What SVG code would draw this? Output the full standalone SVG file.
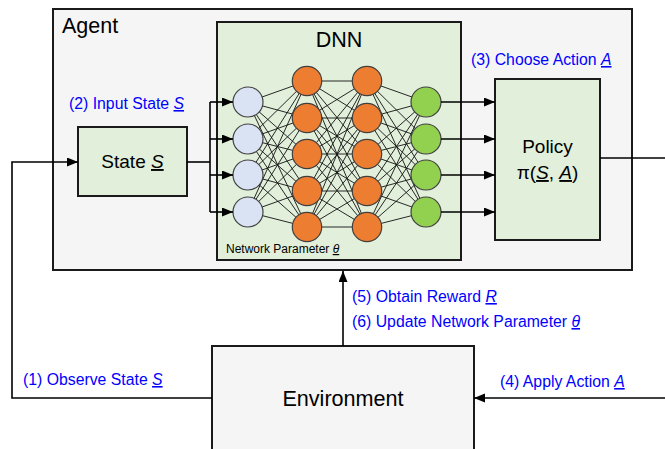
<svg xmlns="http://www.w3.org/2000/svg" width="665" height="449" viewBox="0 0 665 449">
<defs>
<marker id="ah" markerUnits="userSpaceOnUse" markerWidth="12" markerHeight="10" refX="11" refY="4.5" orient="auto">
<path d="M0,0 L11,4.5 L0,9 z" fill="#000"/>
</marker>
<style>
.box{stroke:#1a1a1a;stroke-width:2}
.green{fill:#e2efda}
.gray{fill:#f5f5f5}
.t{font-family:"Liberation Sans",Arial,sans-serif;fill:#000}
.blue{font-family:"Liberation Sans",Arial,sans-serif;fill:#0000ff;font-size:15.8px}
.v{font-style:italic;text-decoration:underline}
.c{fill:none;stroke:#000;stroke-width:1.6}
.w{stroke:#111;stroke-width:0.9}
.in{fill:#dae3f3;stroke:#404040;stroke-width:1.2}
.hid{fill:#ed7d31;stroke:#404040;stroke-width:1.2}
.out{fill:#92d050;stroke:#404040;stroke-width:1.2}
</style>
</defs>
<rect width="665" height="449" fill="#fff"/>

<g id="agent">
<rect class="box gray" x="53" y="9" width="579" height="261"/>
<text class="t" x="62" y="33" font-size="21.5">Agent</text>
</g>

<g id="dnn">
<rect class="box green" x="217" y="22" width="244" height="238"/>
<text class="t" x="339" y="47" font-size="21.5" text-anchor="middle">DNN</text>
<g id="weights">
<path class="w" d="M248,102L307,81M248,102L307,118M248,102L307,154M248,102L307,191M248,102L307,227
M248,139L307,81M248,139L307,118M248,139L307,154M248,139L307,191M248,139L307,227
M248,175L307,81M248,175L307,118M248,175L307,154M248,175L307,191M248,175L307,227
M248,212L307,81M248,212L307,118M248,212L307,154M248,212L307,191M248,212L307,227
M307,81L367,81M307,81L367,118M307,81L367,154M307,81L367,191M307,81L367,227
M307,118L367,81M307,118L367,118M307,118L367,154M307,118L367,191M307,118L367,227
M307,154L367,81M307,154L367,118M307,154L367,154M307,154L367,191M307,154L367,227
M307,191L367,81M307,191L367,118M307,191L367,154M307,191L367,191M307,191L367,227
M307,227L367,81M307,227L367,118M307,227L367,154M307,227L367,191M307,227L367,227
M367,81L426,102M367,81L426,139M367,81L426,175M367,81L426,212
M367,118L426,102M367,118L426,139M367,118L426,175M367,118L426,212
M367,154L426,102M367,154L426,139M367,154L426,175M367,154L426,212
M367,191L426,102M367,191L426,139M367,191L426,175M367,191L426,212
M367,227L426,102M367,227L426,139M367,227L426,175M367,227L426,212"/>
</g>
<g id="input-layer">
<circle class="in" cx="248" cy="102" r="15"/>
<circle class="in" cx="248" cy="139" r="15"/>
<circle class="in" cx="248" cy="175" r="15"/>
<circle class="in" cx="248" cy="212" r="15"/>
</g>
<g id="hidden-layer-1">
<circle class="hid" cx="307" cy="81" r="14.7"/>
<circle class="hid" cx="307" cy="118" r="14.7"/>
<circle class="hid" cx="307" cy="154" r="14.7"/>
<circle class="hid" cx="307" cy="191" r="14.7"/>
<circle class="hid" cx="307" cy="227" r="14.7"/>
</g>
<g id="hidden-layer-2">
<circle class="hid" cx="367" cy="81" r="14.7"/>
<circle class="hid" cx="367" cy="118" r="14.7"/>
<circle class="hid" cx="367" cy="154" r="14.7"/>
<circle class="hid" cx="367" cy="191" r="14.7"/>
<circle class="hid" cx="367" cy="227" r="14.7"/>
</g>
<g id="output-layer">
<circle class="out" cx="426" cy="102" r="15"/>
<circle class="out" cx="426" cy="139" r="15"/>
<circle class="out" cx="426" cy="175" r="15"/>
<circle class="out" cx="426" cy="212" r="15"/>
</g>
<text class="t" x="226" y="253" font-size="12">Network Parameter <tspan class="v">θ</tspan></text>
</g>

<g id="state">
<rect class="box green" x="78" y="127" width="109" height="69"/>
<text class="t" x="132.5" y="168" font-size="19" text-anchor="middle">State <tspan class="v">S</tspan></text>
</g>

<g id="policy">
<rect class="box green" x="495" y="79" width="105" height="161"/>
<text class="t" x="547.5" y="153" font-size="19" text-anchor="middle">Policy</text>
<text class="t" x="547.5" y="179" font-size="19" text-anchor="middle">π(<tspan class="v">S</tspan>, <tspan class="v">A</tspan>)</text>
</g>

<g id="environment">
<rect class="box gray" x="212" y="346" width="262" height="110"/>
<text class="t" x="343" y="406" font-size="21.6" text-anchor="middle">Environment</text>
</g>

<g id="connectors">
<path class="c" d="M212,398 L12,398 L12,162 L78,162" marker-end="url(#ah)"/>
<path class="c" d="M187,162 L210,162"/>
<path class="c" d="M210,102 L210,212"/>
<path class="c" d="M210,102 L233,102" marker-end="url(#ah)"/>
<path class="c" d="M210,139 L233,139" marker-end="url(#ah)"/>
<path class="c" d="M210,175 L233,175" marker-end="url(#ah)"/>
<path class="c" d="M210,212 L233,212" marker-end="url(#ah)"/>
<path class="c" d="M441,102 L495,102" marker-end="url(#ah)"/>
<path class="c" d="M441,139 L495,139" marker-end="url(#ah)"/>
<path class="c" d="M441,175 L495,175" marker-end="url(#ah)"/>
<path class="c" d="M441,212 L495,212" marker-end="url(#ah)"/>
<path class="c" d="M600,158 L670,158"/>
<path class="c" d="M670,398 L474,398" marker-end="url(#ah)"/>
<path class="c" d="M343,346 L343,271" marker-end="url(#ah)"/>
</g>

<g id="labels">
<text class="blue" x="69" y="109">(2) Input State <tspan class="v">S</tspan></text>
<text class="blue" x="471" y="65">(3) Choose Action <tspan class="v">A</tspan></text>
<text class="blue" x="23" y="385">(1) Observe State <tspan class="v">S</tspan></text>
<text class="blue" x="352" y="302">(5) Obtain Reward <tspan class="v">R</tspan></text>
<text class="blue" x="352" y="327">(6) Update Network Parameter <tspan class="v">θ</tspan></text>
<text class="blue" x="500" y="387">(4) Apply Action <tspan class="v">A</tspan></text>
</g>
</svg>
